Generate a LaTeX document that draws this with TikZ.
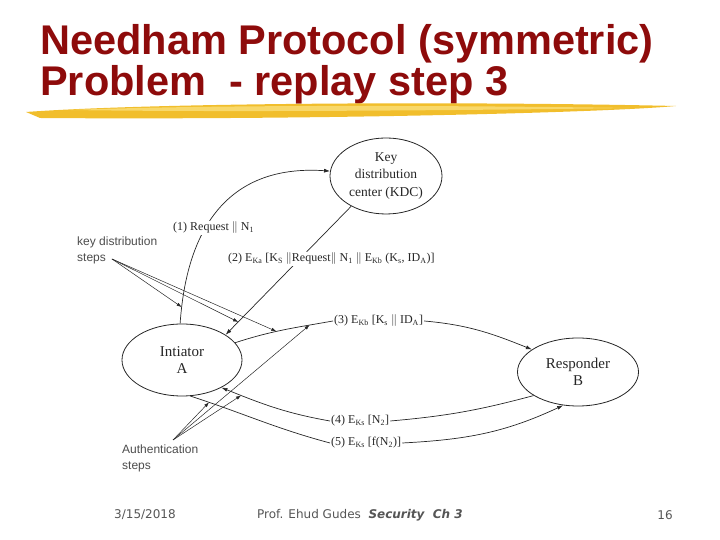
\documentclass[tikz,border=0pt]{standalone}
\usepackage{fontspec}
\setmainfont{Liberation Serif}
\newfontfamily\titlefont{Liberation Sans}
\newfontfamily\footfont{DejaVu Sans}
\usetikzlibrary{arrows.meta,positioning,shapes.geometric}
\definecolor{TitleRed}{HTML}{8E0B0B}
\definecolor{BrushGold}{HTML}{F1BE2C}
\definecolor{BrushLight}{HTML}{F8D86A}
\definecolor{InkGray}{HTML}{262626}
\definecolor{FootGray}{HTML}{555555}

\begin{document}
\begin{tikzpicture}[
  x=1pt, y=1pt,
  party/.style={ellipse, draw=InkGray, line width=0.8pt, align=center, inner sep=0pt, text=InkGray, font=\fontsize{15}{17}\selectfont},
  msg/.style={anchor=west, inner sep=1pt, text=InkGray, font=\fontsize{12}{14}\selectfont},
  note/.style={anchor=west, align=left, inner sep=0pt, text=black!70, font=\titlefont\fontsize{12}{16}\selectfont},
  flow/.style={line width=0.7pt, draw=InkGray},
  arrow/.style={flow, -{Latex[length=6pt,width=4pt]}},
  pointer/.style={line width=0.5pt, draw=InkGray, -{Latex[length=5pt,width=3.5pt]}},
  foot/.style={inner sep=0pt, text=FootGray, font=\footfont\fontsize{12}{14}\selectfont},
  heading/.style={anchor=base west, inner sep=0pt, text=TitleRed, font=\titlefont\bfseries\fontsize{41.5}{44}\selectfont}
]
\useasboundingbox (0,0) rectangle (720,540);

% title and brush stroke
\node[heading] (title1) at (40,485) {Needham Protocol (symmetric)};
\node[heading] (title2) at (40,444) {Problem\ \ - replay step 3};
\fill[BrushGold] (26,428) .. controls (150,437) and (450,439) .. (676,434)
  .. controls (600,427) and (300,420) .. (40,422) -- cycle;
\fill[BrushLight] (70,430) .. controls (200,435) and (420,435) .. (630,432)
  .. controls (420,429) and (200,428) .. (70,430) -- cycle;

% parties
\node[party, minimum width=112pt, minimum height=76pt, font=\fontsize{13.5}{17.5}\selectfont] (kdc) at (386,364) {Key\\distribution\\center (KDC)};
\node[party, minimum width=120pt, minimum height=72pt] (ini) at (182,180) {Intiator\\A};
\node[party, minimum width=121pt, minimum height=68pt] (resp) at (578,168) {Responder\\B};

% steps 1 and 2
\draw[arrow] (ini.93) .. controls +(8,114) and +(-87,6) .. coordinate[pos=0.05] (k1) (kdc.175);
\draw[arrow] (kdc.221) -- coordinate[pos=0.9] (k2) (ini.30);

% message labels
\node[msg, fill=white] (l1) at (172,312) {(1) Request $\|$ N\textsubscript{1}};
\node[msg, fill=white] (l2) at (227,281) {(2) E\textsubscript{Ka} [K\textsubscript{S} $\|$Request$\|$ N\textsubscript{1} $\|$ E\textsubscript{Kb} (K\textsubscript{s}, ID\textsubscript{A})]};
\node[msg] (l3) at (333,219) {(3) E\textsubscript{Kb} [K\textsubscript{s} $\|$ ID\textsubscript{A}]};
\node[msg] (l4) at (330,119) {(4) E\textsubscript{Ks} [N\textsubscript{2}]};
\node[msg] (l5) at (330,97) {(5) E\textsubscript{Ks} [f(N\textsubscript{2})]};

% steps 3 to 5
\draw[flow] (ini.18) to[out=18,in=190] coordinate[pos=0.42] (k3) coordinate[pos=0.78] (a3) (l3.west);
\draw[arrow] (l3.east) to[out=-5,in=158] (resp.154);
\draw[flow] (resp.208) to[out=195,in=5] (l4.east);
\draw[arrow] (l4.west) to[out=170,in=-22] coordinate[pos=0.83] (a4) (ini.-35);
\draw[flow] (ini.-77) to[out=-18,in=165] coordinate[pos=0.12] (a5) (l5.west);
\draw[arrow] (l5.east) to[out=3,in=205] (resp.246);

% annotations
\node[note] (keysteps) at (77,290) {key distribution\\steps};
\node[note] (authsteps) at (122,82) {Authentication\\steps};
\coordinate (khub) at (112,281);
\coordinate (ahub) at (173,100);
\foreach \t in {k1,k2,k3}
  \draw[pointer] (khub) -- (\t);
\foreach \t in {a5,a4,a3}
  \draw[pointer] (ahub) -- (\t);

% footer
\node[foot] (date) at (145,25) {3/15/2018};
\node[foot, anchor=west] (author) at (257,25) {Prof. Ehud Gudes\ \ \textbf{\textit{Security\ \ Ch 3}}};
\node[foot] (page) at (665,25) {16};
\end{tikzpicture}
\end{document}
